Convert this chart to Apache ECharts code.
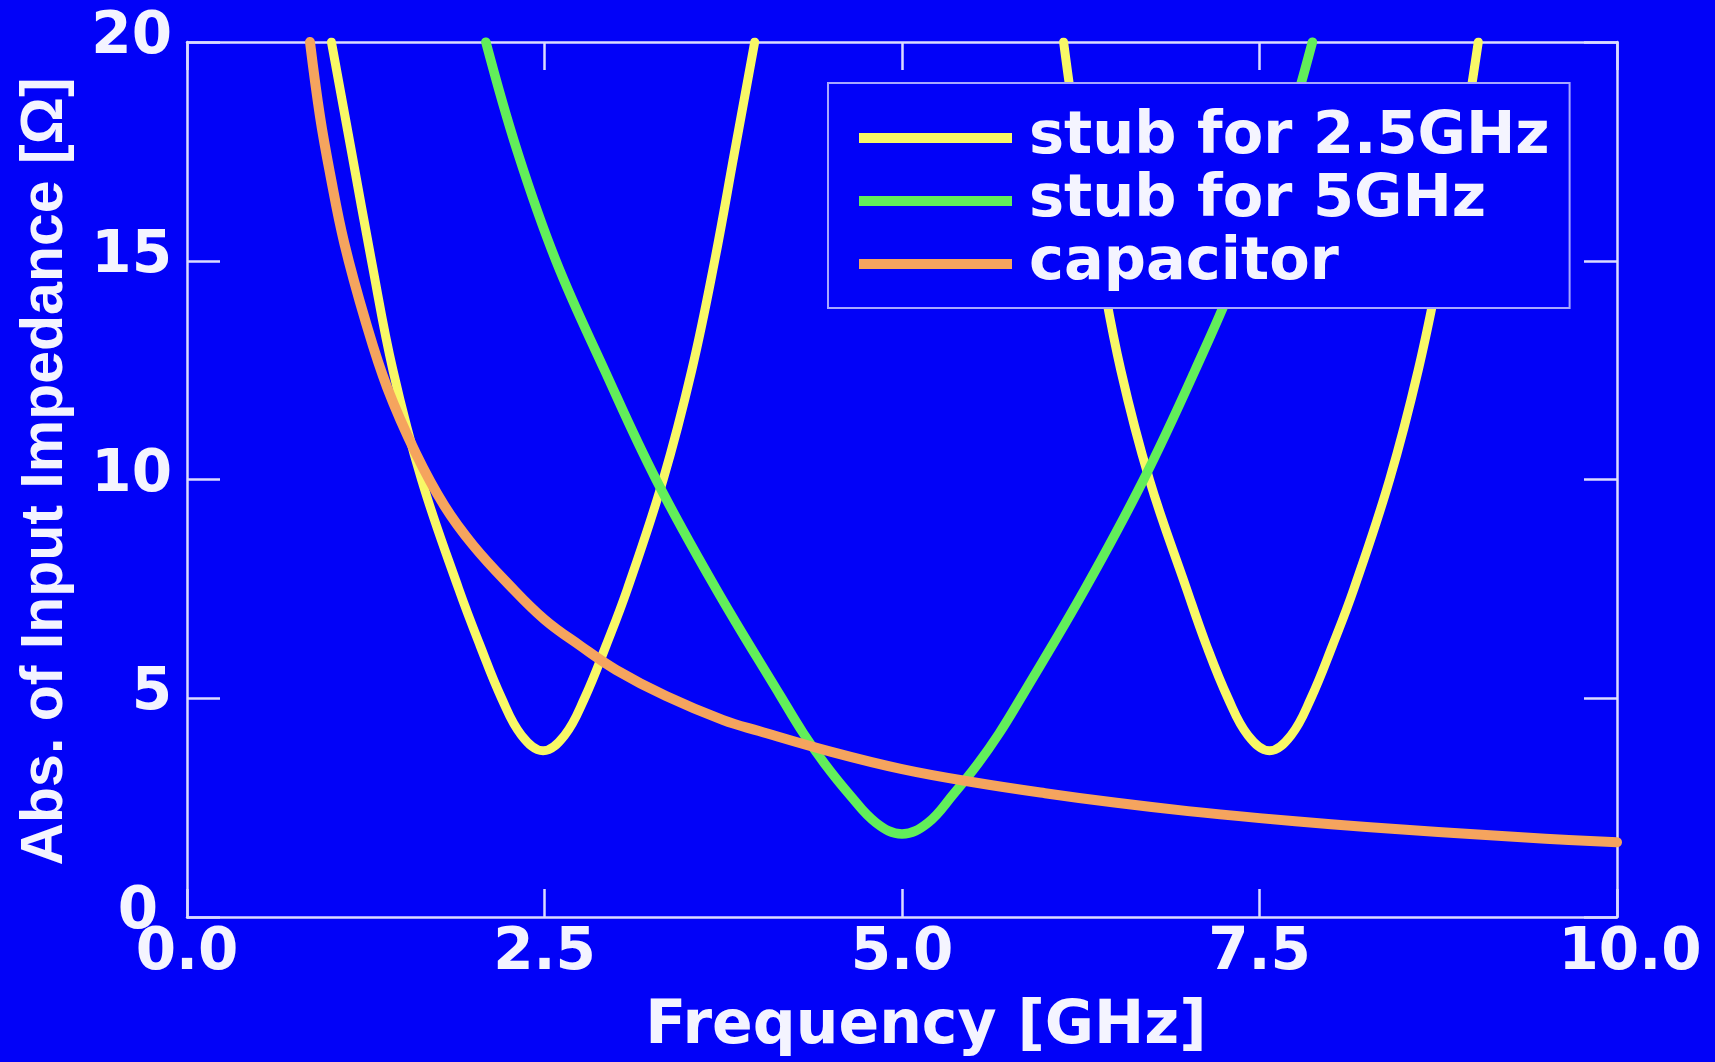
<!DOCTYPE html>
<html lang="en">

<head>
    <meta charset="UTF-8">
    <title>Abs. of Input Impedance</title>
    <script src="https://cdn.jsdelivr.net/npm/echarts@6/dist/echarts.min.js"></script>
    <style>
        * {
            margin: 0;
            padding: 0;
        }

        html,
        body {
            width: 100%;
            height: 100%;
            background: #0202f8;
        }
    </style>
</head>

<body>
    <div id="main" style="width: 1715px;height:1062px;"></div>
</body>
<script>
    // values: [frequency GHz, |Z| ohm]
    var xTicks = [0, 2.5, 5, 7.5, 10];
    var yTicks = [0, 5, 10, 15, 20];
    var seriesNames = ['stub for 2.5GHz', 'stub for 5GHz', 'capacitor'];

    // stub for 2.5GHz, first dip (around 2.5GHz)
    var stub25First = [
        [1.01, 20], [1.15, 17.5], [1.29, 15], [1.44, 12.5], [1.64, 10], [1.90, 7.5],
        [2.05, 6.2], [2.20, 5.0], [2.34, 4.15], [2.49, 3.8], [2.64, 4.15], [2.78, 5.0],
        [2.93, 6.2], [3.08, 7.5], [3.33, 10], [3.53, 12.5], [3.69, 15], [3.83, 17.5], [3.97, 20]
    ];
    // stub for 2.5GHz, second dip (around 7.5GHz)
    var stub25Second = [
        [6.13, 20], [6.24, 17.5], [6.38, 15], [6.53, 12.5], [6.73, 10], [6.99, 7.5],
        [7.13, 6.2], [7.28, 5.0], [7.42, 4.15], [7.57, 3.8], [7.72, 4.15], [7.86, 5.0],
        [8.01, 6.2], [8.16, 7.5], [8.41, 10], [8.61, 12.5], [8.77, 15], [8.91, 17.5], [9.03, 20]
    ];
    var stub5 = [
        [2.09, 20], [2.31, 17.5], [2.58, 15], [2.92, 12.5], [3.28, 10], [3.70, 7.5],
        [4.16, 5.0], [4.31, 4.2], [4.46, 3.5], [4.63, 2.81], [4.82, 2.15], [5.0, 1.9],
        [5.18, 2.15], [5.36, 2.81], [5.53, 3.5], [5.68, 4.2], [5.83, 5.0], [6.28, 7.5],
        [6.69, 10], [7.05, 12.5], [7.38, 15], [7.65, 17.5], [7.87, 20]
    ];
    var capacitor = [
        [0.86, 20], [0.93, 18.3], [1.0, 17.0], [1.1, 15.4], [1.25, 13.6], [1.4, 12.1],
        [1.6, 10.6], [1.8, 9.4], [2.0, 8.5], [2.25, 7.6], [2.5, 6.8], [2.75, 6.2],
        [3.0, 5.65], [3.35, 5.05], [3.75, 4.5], [4.0, 4.25], [4.5, 3.78], [5.0, 3.38],
        [5.5, 3.08], [6.0, 2.83], [6.5, 2.61], [7.0, 2.42], [7.5, 2.26], [8.0, 2.12],
        [8.5, 2.0], [9.0, 1.89], [9.5, 1.79], [10.0, 1.71]
    ];

    var fg = '#f4f4ff';
    var boxColor = '#dcdcff';
    var font = 'DejaVu Sans';

    var myChart = echarts.init(document.getElementById('main'));

    function axisBase(pos, showLabel) {
        return {
            type: 'value',
            position: pos,
            axisLine: { show: true, onZero: false, lineStyle: { color: boxColor, width: 2.5 } },
            axisTick: { show: true, inside: true, lineStyle: { color: boxColor, width: 2.5 } },
            splitLine: { show: false },
            axisLabel: { show: showLabel }
        };
    }

    var xBottom = axisBase('bottom', true);
    xBottom.min = xTicks[0];
    xBottom.max = xTicks[xTicks.length - 1];
    xBottom.interval = xTicks[1] - xTicks[0];
    xBottom.axisTick.length = 28;
    xBottom.axisLabel = {
        show: true,
        color: fg,
        fontFamily: font,
        fontWeight: 'bold',
        fontSize: 58,
        margin: 8,
        formatter: function (v) {
            return v === 10 ? '{r|' + v.toFixed(1) + '}' : v.toFixed(1);
        },
        rich: {
            r: { padding: [0, 0, 0, 26] }
        }
    };
    xBottom.name = 'Frequency [GHz]';
    xBottom.nameLocation = 'middle';
    xBottom.nameGap = 80;
    xBottom.nameTextStyle = {
        color: fg,
        fontFamily: font,
        fontWeight: 'bold',
        fontSize: 60,
        padding: [0, 0, 0, 48]
    };

    var xTop = axisBase('top', false);
    xTop.min = xBottom.min;
    xTop.max = xBottom.max;
    xTop.interval = xBottom.interval;
    xTop.axisTick.length = 28;

    var yLeft = axisBase('left', true);
    yLeft.min = yTicks[0];
    yLeft.max = yTicks[yTicks.length - 1];
    yLeft.interval = yTicks[1] - yTicks[0];
    yLeft.axisTick.length = 33;
    yLeft.axisLabel = {
        show: true,
        color: fg,
        fontFamily: font,
        fontWeight: 'bold',
        fontSize: 58,
        margin: 15,
        padding: [0, 0, 8, 0],
        formatter: function (v) { return v === 0 ? '{z|0}' : String(v); },
        rich: {
            z: { padding: [0, 14, 0, 0] }
        }
    };
    yLeft.name = 'Abs. of Input Impedance [Ω]';
    yLeft.nameLocation = 'middle';
    yLeft.nameGap = 112;
    yLeft.nameTextStyle = {
        color: fg,
        fontFamily: 'Liberation Sans',
        fontWeight: 'bold',
        fontSize: 59,
        padding: [0, 0, 0, 16]
    };

    var yRight = axisBase('right', false);
    yRight.min = yLeft.min;
    yRight.max = yLeft.max;
    yRight.interval = yLeft.interval;
    yRight.axisTick.length = 33;

    function line(name, data, color, width) {
        return {
            type: 'line',
            name: name,
            data: data,
            xAxisIndex: 0,
            yAxisIndex: 0,
            smooth: 0.4,
            symbol: 'none',
            showSymbol: false,
            clip: true,
            lineStyle: { color: color, width: width, cap: 'round', join: 'round' },
            itemStyle: { color: color }
        };
    }

    myChart.setOption({
        backgroundColor: '#0202f8',
        animation: false,
        grid: {
            left: 187,
            right: 98,
            top: 42,
            bottom: 142
        },
        legend: {
            left: 828,
            top: 83,
            orient: 'vertical',
            data: seriesNames,
            icon: 'rect',
            backgroundColor: '#0202f8',
            borderColor: '#a8a8ff',
            borderWidth: 2,
            borderRadius: 0,
            padding: [25, 20, 14, 31],
            itemWidth: 153,
            itemHeight: 10,
            itemGap: 3,
            textStyle: {
                color: fg,
                fontFamily: font,
                fontWeight: 'bold',
                fontSize: 59,
                lineHeight: 60,
                padding: [0, 0, 0, 12]
            }
        },
        xAxis: [xBottom, xTop],
        yAxis: [yLeft, yRight],
        series: [
            line(seriesNames[0], stub25First, '#f8f866', 9),
            line(seriesNames[0], stub25Second, '#f8f866', 9),
            line(seriesNames[1], stub5, '#62ee5a', 9.5),
            line(seriesNames[2], capacitor, '#f5a45e', 10)
        ]
    });
</script>

</html>
